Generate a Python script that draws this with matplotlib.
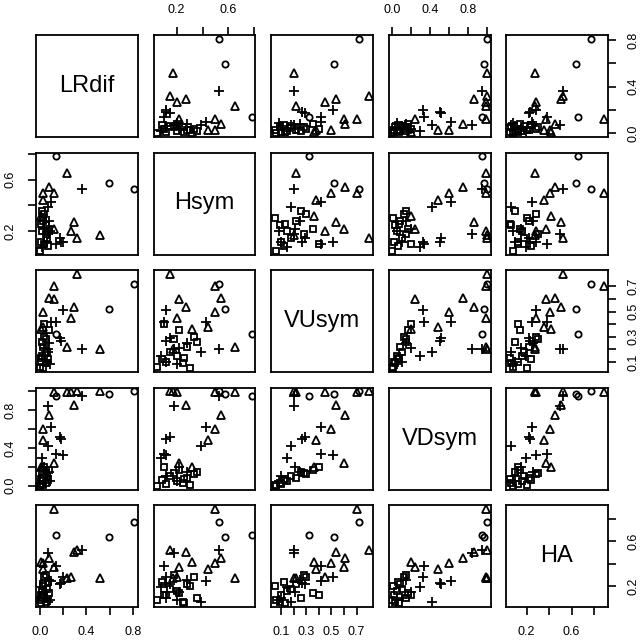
import matplotlib
matplotlib.use("Agg")
import matplotlib.pyplot as plt
import numpy as np

plt.rcParams['font.family'] = ['Liberation Sans', 'DejaVu Sans']

names = ['LRdif', 'Hsym', 'VUsym', 'VDsym', 'HA']

# columns: LRdif, Hsym, VUsym, VDsym, HA
squares = np.array([
    [0.00, 0.05, 0.06, 0.00, 0.08],
    [0.01, 0.12, 0.10, 0.02, 0.12],
    [0.02, 0.20, 0.15, 0.05, 0.16],
    [0.03, 0.28, 0.22, 0.08, 0.22],
    [0.04, 0.33, 0.30, 0.12, 0.28],
    [0.05, 0.25, 0.09, 0.03, 0.06],
    [0.06, 0.15, 0.18, 0.10, 0.18],
    [0.07, 0.09, 0.12, 0.06, 0.24],
    [0.02, 0.36, 0.26, 0.15, 0.10],
    [0.08, 0.22, 0.35, 0.17, 0.14],
    [0.03, 0.30, 0.05, 0.01, 0.20],
    [0.05, 0.18, 0.28, 0.14, 0.30],
    [0.04, 0.10, 0.40, 0.20, 0.12],
    [0.01, 0.26, 0.13, 0.07, 0.05],
])
plus = np.array([
    [0.36, 0.53, 0.20, 0.95, 0.52],
    [0.07, 0.18, 0.20, 0.84, 0.50],
    [0.10, 0.43, 0.42, 0.62, 0.25],
    [0.17, 0.15, 0.29, 0.52, 0.22],
    [0.18, 0.12, 0.27, 0.50, 0.23],
    [0.07, 0.39, 0.18, 0.42, 0.06],
    [0.14, 0.10, 0.42, 0.34, 0.38],
    [0.20, 0.12, 0.51, 0.33, 0.28],
    [0.02, 0.08, 0.15, 0.29, 0.19],
    [0.04, 0.22, 0.21, 0.20, 0.15],
    [0.06, 0.12, 0.10, 0.10, 0.10],
    [0.08, 0.28, 0.25, 0.15, 0.26],
    [0.09, 0.20, 0.08, 0.05, 0.08],
])
triangles = np.array([
    [0.52, 0.17, 0.20, 1.00, 0.27],
    [0.32, 0.15, 0.80, 1.00, 0.52],
    [0.29, 0.27, 0.54, 0.86, 0.51],
    [0.23, 0.65, 0.22, 0.99, 0.27],
    [0.12, 0.50, 0.70, 0.99, 0.89],
    [0.27, 0.20, 0.45, 0.99, 0.28],
    [0.08, 0.54, 0.61, 0.75, 0.45],
    [0.03, 0.50, 0.50, 0.60, 0.41],
    [0.03, 0.44, 0.38, 0.48, 0.35],
    [0.12, 0.22, 0.60, 0.24, 0.37],
    [0.01, 0.32, 0.36, 0.20, 0.42],
])
circles = np.array([
    [0.81, 0.53, 0.72, 1.00, 0.77],
    [0.59, 0.57, 0.52, 0.97, 0.64],
    [0.14, 0.78, 0.32, 0.95, 0.66],
])

groups = [(squares, 's', 4.5), (plus, '+', 7.5), (triangles, '^', 5.5), (circles, 'o', 4.5)]

# axis ticks and which of them carry a label
ticks = [
    [0.0, 0.2, 0.4, 0.6, 0.8],
    [0.2, 0.4, 0.6, 0.8],
    [0.1, 0.2, 0.3, 0.4, 0.5, 0.6, 0.7],
    [0.0, 0.2, 0.4, 0.6, 0.8, 1.0],
    [0.2, 0.4, 0.6, 0.8],
]
labelled = [
    [0.0, 0.4, 0.8],
    [0.2, 0.6],
    [0.1, 0.3, 0.5, 0.7],
    [0.0, 0.4, 0.8],
    [0.2, 0.6],
]

alld = np.vstack([g[0] for g in groups])
lims = []
for k in range(5):
    lo, hi = alld[:, k].min(), alld[:, k].max()
    pad = 0.04 * (hi - lo)
    lims.append((lo - pad, hi + pad))

W, H = 643, 640
fig = plt.figure(figsize=(W / 100, H / 100), dpi=100)

left0, top0, size, step = 36, 35, 102, 117.5

def fmt(v, k):
    return ('%.1f' % v) if v in labelled[k] else ''

n = 5
for i in range(n):
    for j in range(n):
        x0 = left0 + j * step
        y0 = top0 + i * step
        ax = fig.add_axes([x0 / W, 1 - (y0 + size) / H, size / W, size / H])
        for s in ax.spines.values():
            s.set_linewidth(1.3)
        ax.set_xlim(lims[j])
        ax.set_ylim(lims[i])
        ax.set_xticks([])
        ax.set_yticks([])
        if i == j:
            ax.text(0.5, 0.5, names[i], transform=ax.transAxes, ha='center',
                    va='center', fontsize=17)
        else:
            for data, m, ms in groups:
                ax.plot(data[:, j], data[:, i], ls='none', marker=m, ms=ms,
                        mfc='none', mec='black', mew=1.3)

        # R pairs style alternating axes
        if i == 0 and j % 2 == 1:
            ax.set_xticks(ticks[j])
            ax.set_xticklabels([fmt(v, j) for v in ticks[j]])
            ax.xaxis.tick_top()
        if i == n - 1 and j % 2 == 0:
            ax.set_xticks(ticks[j])
            ax.set_xticklabels([fmt(v, j) for v in ticks[j]])
            ax.xaxis.tick_bottom()
        if j == 0 and i % 2 == 1:
            ax.set_yticks(ticks[i])
            ax.set_yticklabels([fmt(v, i) for v in ticks[i]], rotation=90, va='center')
            ax.yaxis.tick_left()
        if j == n - 1 and i % 2 == 0:
            ax.set_yticks(ticks[i])
            ax.set_yticklabels([fmt(v, i) for v in ticks[i]], rotation=90, va='center')
            ax.yaxis.tick_right()
        ax.tick_params(length=6, width=1.2, labelsize=9, pad=8)
        ax.set_xlim(lims[j])
        ax.set_ylim(lims[i])

fig.savefig('out.png', dpi=100)
